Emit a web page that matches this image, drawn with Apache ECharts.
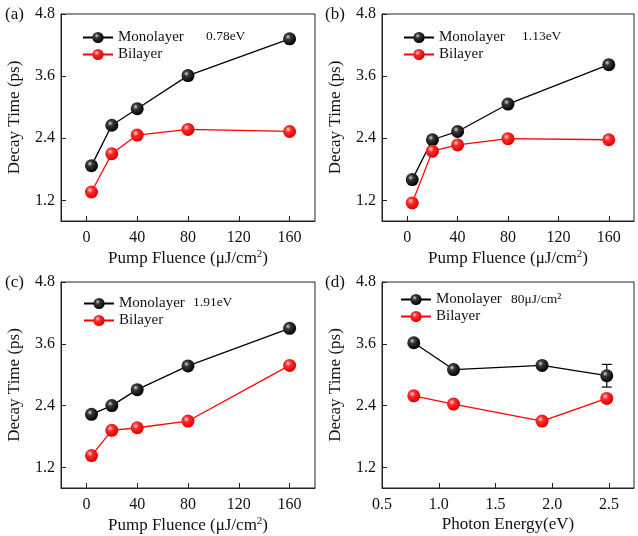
<!DOCTYPE html>
<html>
<head>
<meta charset="utf-8">
<script src="https://cdn.jsdelivr.net/npm/echarts@6/dist/echarts.min.js"></script>
<style>
html,body{margin:0;padding:0;background:#fff;}
#main{width:638px;height:536px;}
</style>
</head>
<body>
<div id="main"></div>
<script>
// ---- data ----
const fluence = [4, 20, 40, 80, 160];
const energy = [0.78, 1.13, 1.91, 2.48];
const monoA = [1.87, 2.65, 2.97, 3.61, 4.32];
const biA   = [1.36, 2.10, 2.46, 2.57, 2.53];
const monoB = [1.60, 2.37, 2.53, 3.06, 3.82];
const biB   = [1.15, 2.15, 2.27, 2.39, 2.37];
const monoC = [2.23, 2.40, 2.71, 3.17, 3.90];
const biC   = [1.43, 1.92, 1.97, 2.10, 3.18];
const monoD = [3.62, 3.10, 3.18, 2.98];
const biD   = [2.59, 2.43, 2.10, 2.54];
const monoErrD = [0, 0, 0, 0.22];
const biErrD   = [0, 0, 0, 0.07];
const yTicks = [1.2, 2.4, 3.6, 4.8];
const fluenceTicks = [0, 40, 80, 120, 160];
const energyTicks = [0.5, 1.0, 1.5, 2.0, 2.5];
const panelLabels = ['(a)', '(b)', '(c)', '(d)'];
const notes = ['0.78eV', '1.13eV', '1.91eV', '80μJ/cm²'];

const FONT = 'Liberation Serif';
const blackBall = {type:'radial', x:0.38, y:0.35, r:0.65, colorStops:[
  {offset:0, color:'#d8d8d8'}, {offset:0.3, color:'#3a3a3a'}, {offset:1, color:'#000'}]};
const redBall = {type:'radial', x:0.38, y:0.35, r:0.65, colorStops:[
  {offset:0, color:'#ffd6d6'}, {offset:0.35, color:'#ff2a2a'}, {offset:1, color:'#e00000'}]};

const grids = [
  {left:61, top:14, width:254, height:207},
  {left:382, top:14, width:252, height:207},
  {left:61, top:282, width:254, height:206},
  {left:382, top:282, width:252, height:206}
];

function pair(xs, ys){ return xs.map((x,i)=>[x, ys[i]]); }

const xAxes = grids.map((g,i)=>{
  const isE = i===3;
  return {
    type:'value', gridIndex:i,
    min: isE ? 0.5 : -20, max: isE ? 2.72 : 180,
    name: isE ? 'Photon Energy(eV)' : 'Pump Fluence (μJ/cm{sup|2})',
    nameLocation:'middle', nameGap: 28,
    nameTextStyle:{fontFamily:FONT, fontSize:17, color:'#111',
      rich:{sup:{fontFamily:FONT, fontSize:11, color:'#111', verticalAlign:'top', padding:[0,0,8,0]}}},
    axisLine:{show:true, onZero:false, lineStyle:{color:'#222', width:1}},
    axisTick:{show:true, inside:true, length:5, lineStyle:{color:'#222'},
      customValues: isE ? energyTicks : fluenceTicks},
    axisLabel:{fontFamily:FONT, fontSize:16, color:'#111', margin:9,
      customValues: isE ? energyTicks : fluenceTicks,
      formatter: v => isE ? v.toFixed(1) : String(v)},
    splitLine:{show:false}
  };
});

const yAxes = grids.map((g,i)=>({
  type:'value', gridIndex:i, min:0.8, max:4.8,
  name:'Decay Time (ps)', nameLocation:'middle', nameGap:38,
  nameTextStyle:{fontFamily:FONT, fontSize:17, color:'#111'},
  axisLine:{show:true, onZero:false, lineStyle:{color:'#222', width:1}},
  axisTick:{show:true, inside:true, length:5, lineStyle:{color:'#222'}, customValues: yTicks},
  axisLabel:{fontFamily:FONT, fontSize:16, color:'#111', margin:6, customValues: yTicks,
    formatter: v => v.toFixed(1)},
  splitLine:{show:false}
}));

function lineSeries(name, data, idx, black){
  return {
    type:'line', name:name, xAxisIndex:idx, yAxisIndex:idx, data:data,
    symbol:'circle', symbolSize:13, z:3,
    lineStyle:{color: black ? '#000' : '#f00', width:1.3},
    itemStyle:{color: black ? blackBall : redBall, borderWidth:0},
    emphasis:{disabled:true}, animation:false
  };
}

function errSeries(xs, ys, errs, idx, color){
  const d = xs.map((x,i)=>[x, ys[i], errs[i]]).filter(r=>r[2]>0);
  return {
    type:'custom', xAxisIndex:idx, yAxisIndex:idx, data:d, z:2, silent:true, animation:false,
    renderItem:(params, api)=>{
      const x = api.value(0), y = api.value(1), e = api.value(2);
      const hi = api.coord([x, y+e]), lo = api.coord([x, y-e]);
      const w = 5;
      const st = {stroke:color, lineWidth:1.2};
      return {type:'group', children:[
        {type:'line', shape:{x1:hi[0], y1:hi[1], x2:lo[0], y2:lo[1]}, style:st},
        {type:'line', shape:{x1:hi[0]-w, y1:hi[1], x2:hi[0]+w, y2:hi[1]}, style:st},
        {type:'line', shape:{x1:lo[0]-w, y1:lo[1], x2:lo[0]+w, y2:lo[1]}, style:st}
      ]};
    }
  };
}

const series = [
  lineSeries('Monolayer', pair(fluence, monoA), 0, true),
  lineSeries('Bilayer', pair(fluence, biA), 0, false),
  lineSeries('Monolayer', pair(fluence, monoB), 1, true),
  lineSeries('Bilayer', pair(fluence, biB), 1, false),
  lineSeries('Monolayer', pair(fluence, monoC), 2, true),
  lineSeries('Bilayer', pair(fluence, biC), 2, false),
  lineSeries('Monolayer', pair(energy, monoD), 3, true),
  lineSeries('Bilayer', pair(energy, biD), 3, false),
  errSeries(energy, monoD, monoErrD, 3, '#000'),
  errSeries(energy, biD, biErrD, 3, '#f00')
];

const legendPos = [[82,30],[403,30],[83,296],[400,292]];
const legends = legendPos.map(p=>({
  left:p[0], top:p[1], orient:'vertical', itemWidth:30, itemHeight:14, itemGap:2,
  padding:0, selectedMode:false,
  textStyle:{fontFamily:FONT, fontSize:15, color:'#111'},
  data:['Monolayer','Bilayer']
}));

const notePos = [[206,37],[522,37],[193,303],[511,300]];
const panelPos = [[5,16],[325,16],[5,284],[325,284]];
const graphics = [];
notes.forEach((t,i)=>graphics.push({type:'text', left:notePos[i][0], top:notePos[i][1]-8,
  style:{text:t, fontFamily:FONT, fontSize:13.5, fill:'#111'}}));
panelLabels.forEach((t,i)=>graphics.push({type:'text', left:panelPos[i][0], top:panelPos[i][1]-10,
  style:{text:t, fontFamily:FONT, fontSize:17, fill:'#111'}}));

const chart = echarts.init(document.getElementById('main'), null, {renderer:'canvas'});
chart.setOption({
  backgroundColor:'#fff',
  animation:false,
  textStyle:{fontFamily:FONT},
  grid: grids.map(g=>Object.assign({show:true, borderColor:'#222', borderWidth:1, backgroundColor:'transparent'}, g)),
  xAxis:xAxes, yAxis:yAxes, series:series, legend:legends, graphic:graphics
});
</script>
</body>
</html>
